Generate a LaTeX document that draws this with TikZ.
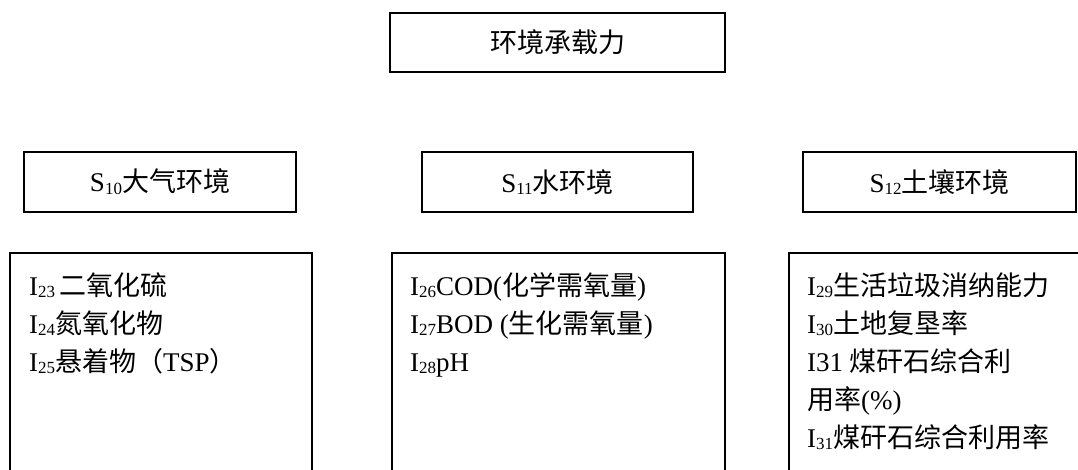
\documentclass[tikz,border=0pt]{standalone}
\usepackage{fontspec}
\setmainfont{Liberation Serif}
\newfontfamily\cjk{Noto Sans CJK SC}
\newcommand\lsub[1]{\raisebox{-0.1em}{\fontsize{17}{17}\selectfont #1}}
\begin{document}
\begin{tikzpicture}[x=1pt,y=-1pt,
  box/.style={draw,line width=1.6pt,inner sep=0pt},
  txt/.style={inner sep=0pt,font=\fontsize{27}{38}\selectfont}]
\useasboundingbox (0,0) rectangle (1078,470);
\clip (0,0) rectangle (1078,470);
% top
\node[box,txt,minimum width=335pt,minimum height=59pt] (top) at (557.5,42.5) {\cjk 环境承载力};
% second row
\node[box,txt,minimum width=272pt,minimum height=60pt] (s10) at (160,182) {S\lsub{10}{\cjk 大气环境}};
\node[box,txt,minimum width=271pt,minimum height=60pt] (s11) at (557.5,182) {S\lsub{11}{\cjk 水环境}};
\node[box,txt,minimum width=273pt,minimum height=60pt] (s12) at (939.5,182) {S\lsub{12}{\cjk 土壤环境}};
% third row boxes
\node[box,anchor=north west,minimum width=302pt,minimum height=260pt] (b1) at (9,252) {};
\node[box,anchor=north west,minimum width=333pt,minimum height=260pt] (b2) at (391,252) {};
\node[box,anchor=north west,minimum width=310pt,minimum height=260pt] (b3) at (788,252) {};
% box 1 text
\node[txt,anchor=base west] (a1) at ([xshift=20pt,yshift=-43pt]b1.north west) {I\lsub{23}\,{\cjk 二氧化硫}};
\node[txt,anchor=base west] (a2) at ([xshift=20pt,yshift=-81pt]b1.north west) {I\lsub{24}{\cjk 氮氧化物}};
\node[txt,anchor=base west] (a3) at ([xshift=20pt,yshift=-119pt]b1.north west) {I\lsub{25}{\cjk 悬着物（}TSP{\cjk ）}};
% box 2 text
\node[txt,anchor=base west] (c1) at ([xshift=19pt,yshift=-43pt]b2.north west) {I\lsub{26}COD({\cjk 化学需氧量})};
\node[txt,anchor=base west] (c2) at ([xshift=19pt,yshift=-81pt]b2.north west) {I\lsub{27}BOD ({\cjk 生化需氧量})};
\node[txt,anchor=base west] (c3) at ([xshift=19pt,yshift=-119pt]b2.north west) {I\lsub{28}pH};
% box 3 text
\node[txt,anchor=base west] (d1) at ([xshift=19pt,yshift=-43pt]b3.north west) {I\lsub{29}{\cjk 生活垃圾消纳能力}};
\node[txt,anchor=base west] (d2) at ([xshift=19pt,yshift=-81pt]b3.north west) {I\lsub{30}{\cjk 土地复垦率}};
\node[txt,anchor=base west] (d3) at ([xshift=19pt,yshift=-119pt]b3.north west) {I31 {\cjk 煤矸石综合利}};
\node[txt,anchor=base west] (d4) at ([xshift=19pt,yshift=-157pt]b3.north west) {{\cjk 用率}(\%)};
\node[txt,anchor=base west] (d5) at ([xshift=19pt,yshift=-195pt]b3.north west) {I\lsub{31}{\cjk 煤矸石综合利用率}};
\end{tikzpicture}
\end{document}
